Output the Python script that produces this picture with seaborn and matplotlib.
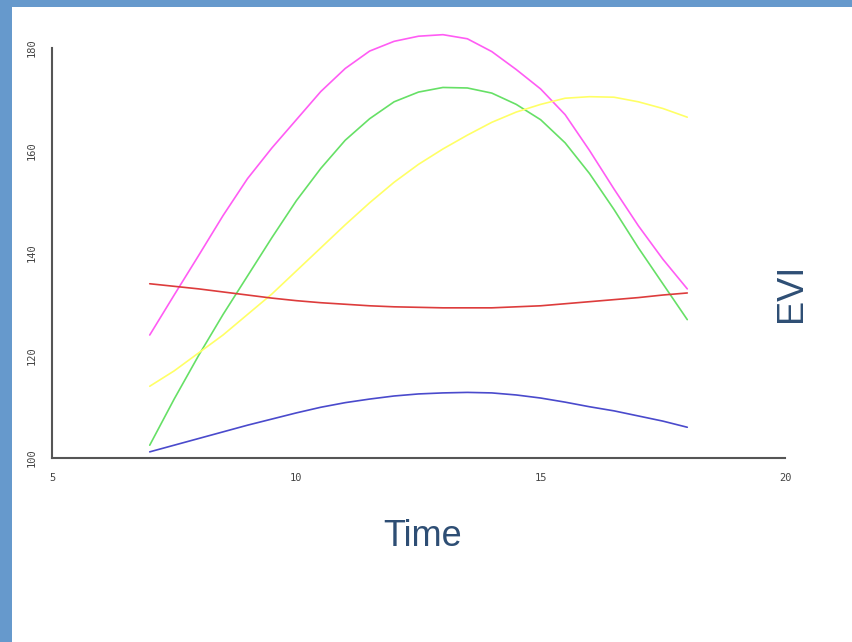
import matplotlib
matplotlib.use("Agg")
import matplotlib.pyplot as plt
import seaborn as sns
import pandas as pd
from matplotlib.patches import Rectangle

time = [7, 7.5, 8, 8.5, 9, 9.5, 10, 10.5, 11, 11.5, 12, 12.5,
        13, 13.5, 14, 14.5, 15, 15.5, 16, 16.5, 17, 17.5, 18]
magenta = [124.0, 131.8, 139.5, 147.3, 154.5, 160.5, 166.0, 171.5, 176.0, 179.4, 181.3, 182.3,
           182.6, 181.8, 179.3, 175.8, 172.0, 167.0, 160.0, 152.5, 145.3, 138.8, 133.0]
green = [102.5, 111.5, 120.0, 128.0, 135.5, 143.0, 150.2, 156.5, 162.0, 166.2, 169.5, 171.4,
         172.3, 172.2, 171.2, 169.0, 166.0, 161.5, 155.5, 148.5, 141.0, 134.0, 127.0]
yellow = [114.0, 117.0, 120.5, 124.0, 128.0, 132.0, 136.5, 141.0, 145.5, 149.8, 153.8, 157.3,
          160.3, 163.0, 165.5, 167.5, 169.0, 170.2, 170.5, 170.4, 169.5, 168.2, 166.5]
red = [134.0, 133.5, 133.0, 132.4, 131.8, 131.2, 130.7, 130.3, 130.0, 129.7, 129.5, 129.4,
       129.3, 129.3, 129.3, 129.5, 129.7, 130.1, 130.5, 130.9, 131.3, 131.8, 132.2]
blue = [101.2, 102.5, 103.8, 105.1, 106.4, 107.6, 108.8, 109.9, 110.8, 111.5, 112.1, 112.5,
        112.7, 112.8, 112.7, 112.3, 111.7, 110.9, 110.0, 109.2, 108.2, 107.2, 106.0]

series = {"magenta": magenta, "green": green, "yellow": yellow, "red": red, "blue": blue}
colors = {"magenta": "#FF5CF4", "green": "#66E066", "yellow": "#FFFF66",
          "red": "#DD3C3C", "blue": "#4A4ACC"}

rows = []
for name, vals in series.items():
    for t, v in zip(time, vals):
        rows.append({"Time": t, "EVI": v, "series": name})
df = pd.DataFrame(rows)

sns.set_style("white")
fig = plt.figure(figsize=(8.52, 6.42), dpi=100)
fig.patch.set_facecolor("white")
# blue frame (left and top)
fig.patches.append(Rectangle((0, 0), 12 / 852, 1, transform=fig.transFigure,
                             facecolor="#6699CC", edgecolor="none", zorder=0))
fig.patches.append(Rectangle((0, 1 - 7 / 642), 1, 7 / 642, transform=fig.transFigure,
                             facecolor="#6699CC", edgecolor="none", zorder=0))

ax = fig.add_axes([52 / 852, 1 - 458 / 642, 733 / 852, 410 / 642])
sns.lineplot(data=df, x="Time", y="EVI", hue="series", palette=colors,
             linewidth=1.2, legend=False, ax=ax, sort=False)
for ln in ax.get_lines():
    ln.set_clip_on(False)
    ln.set_solid_joinstyle("round")

ax.set_xlim(5, 20)
ax.set_ylim(100, 180)
ax.set_xticks([5, 10, 15, 20])
ax.set_yticks([100, 120, 140, 160, 180])
for s in ["top", "right"]:
    ax.spines[s].set_visible(False)
for s in ["left", "bottom"]:
    ax.spines[s].set_color("#555555")
    ax.spines[s].set_linewidth(1.5)
ax.tick_params(axis="both", direction="out", length=3, width=1, color="#555555",
               labelsize=7.5, labelcolor="#444444", pad=8)
for lab in ax.get_xticklabels() + ax.get_yticklabels():
    lab.set_family("DejaVu Sans Mono")
for lab in ax.get_yticklabels():
    lab.set_rotation(90)
    lab.set_va("center")
ax.set_xlabel("")
ax.set_ylabel("")
ax.patch.set_alpha(0)

fig.text(423 / 852, 1 - 537 / 642, "Time", ha="center", va="center",
         fontsize=26, color="#2E4E74", family="Liberation Sans")
fig.text(792 / 852, 1 - 293 / 642, "EVI", ha="center", va="center", rotation=90,
         fontsize=26, color="#2E4E74", family="Liberation Sans")

fig.savefig("out.png", dpi=100)
